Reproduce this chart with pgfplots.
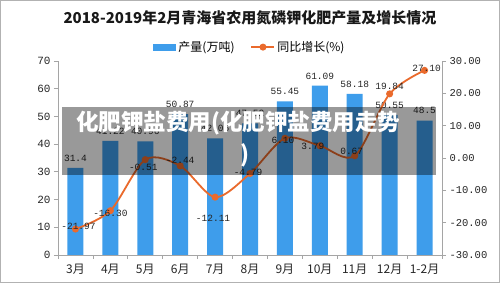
\documentclass[border=0pt]{standalone}
\usepackage{pgfplots}
\pgfplotsset{compat=1.18}
\usepackage{pgfplotstable}
\usepackage{fontspec}
\setmainfont{Noto Sans CJK SC}
\newfontfamily\monofont{Liberation Mono}
\definecolor{barblue}{RGB}{62,157,235}
\definecolor{lineorange}{RGB}{234,106,44}
\definecolor{axgray}{RGB}{165,165,165}

% production (10k tonnes)
\pgfplotstableread{
x val lab
0 31.4 31.4
1 41.22 41.22
2 40.96 40.96
3 50.87 50.87
4 42.06 42.06
5 47.52 47.52
6 55.45 55.45
7 61.09 61.09
8 58.18 58.18
9 50.55 50.55
10 48.5 48.5
}\prodtable

% year-on-year growth (%), with label offsets
\pgfplotstableread{
x val lab dx dy
0 -21.97 -21.97 3 3
1 -16.30 -16.30 0 -3
2 -0.51 -0.51 -2 -8
3 -2.44 -2.44 0 6
4 -12.11 -12.11 -2 -21
5 -4.79 -4.79 -2 1
6 6.10 6.10 -2 -2
7 3.79 3.79 -7 -1
8 0.67 0.67 -3 4
9 19.84 19.84 0 7
10 27.10 27.10 2 2
}\growtable

\pgfplotsset{
  common/.style={
    at={(58pt,28pt)}, anchor=south west,
    scale only axis, width=384pt, height=194pt,
    xmin=-0.5, xmax=10.5,
    axis line style={axgray, line width=0.8pt},
    tick style={axgray, line width=0.8pt},
    tick align=outside,
    major tick length=4pt,
    /pgf/number format/assume math mode=true,
  }
}

\begin{document}
\begin{tikzpicture}
\useasboundingbox (0,0) rectangle (500pt,283pt);
\fill[white] (0,0) rectangle (500pt,283pt);

\begin{axis}[common,
  ymin=0, ymax=70, ytick={0,10,...,70},
  axis x line*=bottom, axis y line*=left,
  xtick={0,...,10},
  xticklabels={3月,4月,5月,6月,7月,8月,9月,10月,11月,12月,1-2月},
  major x tick style={draw=none},
  minor xtick={-0.5,0.5,...,10.5},
  minor tick length=4pt,
  xticklabel style={font=\fontsize{12}{13}\selectfont, text=black!85, yshift=-2pt},
  yticklabel style={font=\monofont\fontsize{11}{12}\selectfont, text=black!85},
  legend style={at={(0.5,1.02)}, anchor=south, draw=none, fill=none,
    legend columns=2, font=\fontsize{12}{13}\selectfont,
    /tikz/every even column/.append style={column sep=14pt}},
]
\addplot[ybar, bar width=16pt, fill=barblue, draw=none,
  nodes near coords, point meta=explicit symbolic,
  every node near coord/.append style={font=\monofont\fontsize{9.5}{10}\selectfont,
    text=black!85, anchor=south, yshift=3pt},
  area legend,
  legend image code/.code={\fill[barblue] (0pt,-3.5pt) rectangle (23pt,3.5pt);}]
  table[x=x, y=val, meta=lab] {\prodtable};
\addlegendentry{产量(万吨)}
\addlegendimage{lineorange, line width=1.5pt, mark=*, mark size=2.5pt,
  legend image code/.code={\draw[lineorange, line width=1.8pt] (0pt,0pt) -- (23pt,0pt);
    \fill[lineorange] (11.5pt,0pt) circle (2.7pt);}}
\addlegendentry{同比增长(\%)}
\end{axis}

\begin{axis}[common,
  ymin=-30, ymax=30, ytick={-30,-20,...,30},
  axis x line=none, axis y line*=right,
  yticklabel style={font=\monofont\fontsize{10.5}{12}\selectfont, text=black!85,
    /pgf/number format/.cd, fixed, fixed zerofill, precision=2},
]
\addplot[lineorange, line width=1.8pt, smooth, mark=*, mark size=2.6pt,
  mark options={fill=lineorange, draw=lineorange},
  nodes near coords, point meta=explicit symbolic,
  visualization depends on={\thisrow{dx}\as\ldx},
  visualization depends on={\thisrow{dy}\as\ldy},
  every node near coord/.append style={font=\monofont\fontsize{9.5}{10}\selectfont,
    text=black!85, anchor=center, xshift=\ldx*1pt, yshift=\ldy*1pt}]
  table[x=x, y=val, meta=lab] {\growtable};
\end{axis}

% title
\node[font=\bfseries\fontsize{15}{17}\selectfont, text=black!90] at (250pt,265pt)
  {2018-2019年2月青海省农用氮磷钾化肥产量及增长情况};

% translucent banner across the plot
\fill[black, opacity=0.4] (62pt,108pt) rectangle (436pt,176pt);
\node[white, font=\bfseries\fontsize{22.5}{24}\selectfont] at (238pt,160pt)
  {化肥钾盐费用(化肥钾盐费用走势};
\node[white, font=\bfseries\fontsize{22.5}{24}\selectfont] at (245pt,128pt) {)};

% outer frame
\draw[black!30, line width=0.8pt] (0.4pt,0.4pt) rectangle (499.6pt,282.6pt);
\end{tikzpicture}
\end{document}
